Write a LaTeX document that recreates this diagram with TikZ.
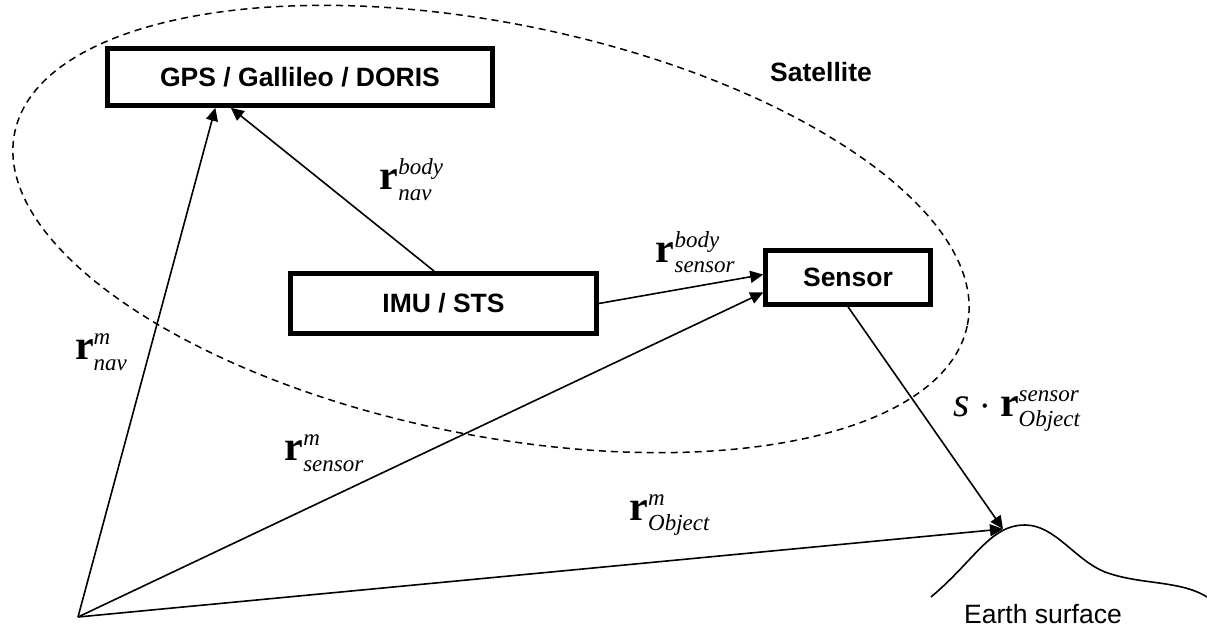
\documentclass[tikz,border=0pt]{standalone}
\usepackage{amsmath}
\usepackage{fontspec}
\setmainfont{Liberation Sans}
\newfontfamily\lblfont{Liberation Serif}
\usetikzlibrary{arrows.meta, positioning, calc}

\DeclareMathSizes{21}{21}{11.5}{9}
\newcommand{\rvec}[2]{{\lblfont\fontsize{21}{25}\selectfont$\textbf{r}^{\textit{#1}}_{\textit{#2}}$}}

\begin{document}
\begin{tikzpicture}[
  x=0.5pt, y=-0.5pt,
  box/.style = {draw, line width=2.3pt, inner sep=0pt, font=\fontsize{13.25}{16}\selectfont\bfseries},
  arrow/.style = {line width=0.8pt, -{Triangle[length=6.5pt, width=6pt]}},
  satline/.style = {line width=0.75pt, dash pattern=on 3.5pt off 2.5pt}
]
  \useasboundingbox (0,0) rectangle (1207,627);

  % Satellite outline
  \draw[satline, rotate around={-11.4:(491,229)}] (491,229) ellipse [x radius=243pt, y radius=103pt];
  \node[font=\fontsize{13.25}{16}\selectfont\bfseries] (satlabel) at (821,72) {Satellite};

  % Navigation receiver
  \node[box, minimum width=192.5pt, minimum height=28.5pt] (gps) at (300,77) {GPS / Gallileo / DORIS};

  % Inertial unit / star tracker
  \node[box, minimum width=153pt, minimum height=30pt] (imu) at (443.5,303.5) {IMU / STS};

  % Sensor
  \node[box, minimum width=82.5pt, minimum height=27pt] (sensor) at (848,277.5) {Sensor};

  % mapping frame origin and ground object
  \coordinate (origin) at (78,617);
  \coordinate (object) at (1003,529);

  % Earth surface
  \draw[line width=0.8pt] (931,597) .. controls (975,560) and (990,525) .. (1025,525)
    .. controls (1055,525) and (1075,560) .. (1105,572)
    .. controls (1140,585) and (1180,580) .. (1207,597);
  \node[font=\fontsize{13.25}{16}\selectfont] (earthlabel) at (1043,614) {Earth surface};

  % origin -> navigation receiver
  \draw[arrow] (origin) -- node[pos=0.52, left=7pt] {\rvec{m}{nav}} (gps.200);

  % lever arm imu -> receiver
  \draw[arrow] (imu.106) -- node[pos=0.56, right=26pt] {\rvec{body}{nav}} (gps.204);

  % lever arm imu -> sensor
  \draw[arrow] (imu.east) -- node[pos=0.59, above=3pt] {\rvec{body}{sensor}} (sensor.178);

  % origin -> sensor
  \draw[arrow] (origin) -- node[pos=0.42, above left=1pt and -3pt] {\rvec{m}{sensor}} (sensor.190);

  % origin -> object
  \draw[arrow] (origin) -- node[pos=0.64, above=9pt] {\rvec{m}{Object}} (object);

  % sensor -> object (scaled)
  \draw[arrow] (sensor.south) -- node[pos=0.47, right=12.7pt]
    {{\lblfont\fontsize{21}{25}\selectfont$\textit{s}\cdot\textbf{r}^{\textit{sensor}}_{\textit{Object}}$}} (object);

\end{tikzpicture}
\end{document}
